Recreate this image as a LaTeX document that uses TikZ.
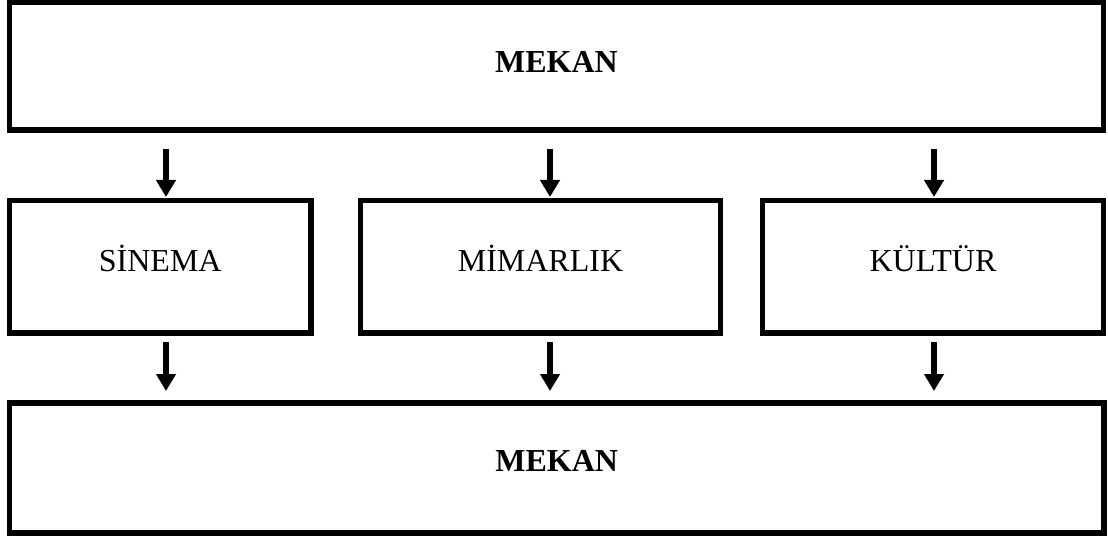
\documentclass[tikz,border=0pt]{standalone}
\usepackage{fontspec}
\setmainfont{Liberation Serif}
\usetikzlibrary{arrows.meta}

\begin{document}
\begin{tikzpicture}[x=1pt,y=-1pt,
  frame/.style={draw=black,line width=5.5pt,line join=miter,inner sep=0pt,outer sep=0pt},
  lbl/.style={inner sep=0pt,font=\fontsize{32}{38}\selectfont},
  boldlbl/.style={lbl,font=\fontsize{32}{38}\selectfont\bfseries},
  arr/.style={line width=5.5pt,-{Triangle[length=17pt,width=19pt]}}]
  \useasboundingbox (0,0) rectangle (1108,540);

  % outer boxes
  \node[frame,minimum width=1094pt,minimum height=127.5pt] (top) at (556.5,66.25) {};
  \node[frame,minimum width=1094.5pt,minimum height=130pt] (bottom) at (556.75,468) {};

  % middle row
  \node[frame,minimum width=301.5pt,minimum height=132.5pt] (sin) at (160.25,266.75) {};
  \node[frame,minimum width=360pt,minimum height=132.5pt] (mim) at (540.5,266.75) {};
  \node[frame,minimum width=341pt,minimum height=132.5pt] (kul) at (933,266.75) {};

  % labels
  \node[boldlbl] (ttop) at ([yshift=4pt]top.center) {MEKAN};
  \node[boldlbl] (tbot) at ([yshift=7pt]bottom.center) {MEKAN};
  \node[lbl] (tsin) at ([yshift=8pt]sin.center) {SİNEMA};
  \node[lbl] (tmim) at ([yshift=8pt]mim.center) {MİMARLIK};
  \node[lbl] (tkul) at ([yshift=8pt]kul.center) {KÜLTÜR};

  % arrow starts
  \coordinate (a1) at (166,149);
  \coordinate (a2) at (550,149);
  \coordinate (a3) at (934,149);
  \coordinate (b1) at (166,342);
  \coordinate (b2) at (550,342);
  \coordinate (b3) at (934,342);

  \draw[arr,shorten >=3.5pt] (a1) -- (a1 |- sin.north);
  \draw[arr,shorten >=3.5pt] (a2) -- (a2 |- mim.north);
  \draw[arr,shorten >=3.5pt] (a3) -- (a3 |- kul.north);
  \draw[arr,shorten >=12pt] (b1) -- (b1 |- bottom.north);
  \draw[arr,shorten >=12pt] (b2) -- (b2 |- bottom.north);
  \draw[arr,shorten >=12pt] (b3) -- (b3 |- bottom.north);
\end{tikzpicture}
\end{document}
